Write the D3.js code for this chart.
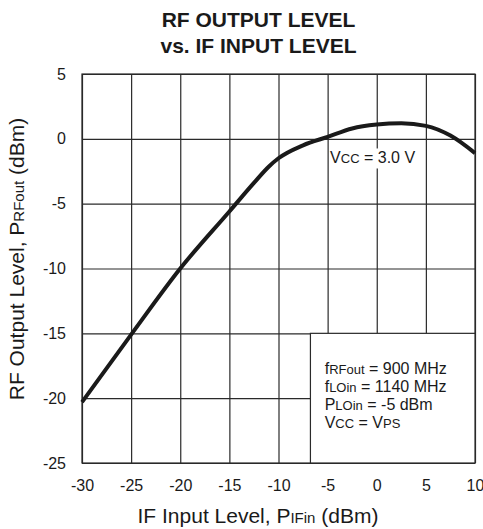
<!DOCTYPE html>
<html>
<head>
<meta charset="utf-8">
<script src="https://cdn.jsdelivr.net/npm/d3@7"></script>
<style>
  body { margin: 0; background: #fff; }
  text { font-family: "Liberation Sans", Arial, sans-serif; fill: #1a1a1a; }
</style>
</head>
<body>
<div id="wrapper"></div>
<script>
// data
const ifInput = [-30, -25, -20, -15, -12.5, -11, -10, -7.5, -5, -2.5, 0, 2.5, 5, 7.5, 10];
const rfOutput = [-20.3, -15.1, -10.0, -5.6, -3.4, -2.15, -1.5, -0.5, 0.15, 0.8, 1.1, 1.2, 1.0, 0.25, -1.1];
const xTicks = [-30, -25, -20, -15, -10, -5, 0, 5, 10];
const yTicks = [-25, -20, -15, -10, -5, 0, 5];

const dimensions = {
  width: 483,
  height: 529,
  margins: { top: 74, right: 8, bottom: 66, left: 82 },
};
dimensions.boundedWidth =
  dimensions.width - dimensions.margins.left - dimensions.margins.right;
dimensions.boundedHeight =
  dimensions.height - dimensions.margins.top - dimensions.margins.bottom;

const wrapper = d3
  .select("#wrapper")
  .append("svg")
  .attr("width", dimensions.width)
  .attr("height", dimensions.height);

const bounds = wrapper
  .append("g")
  .attr("transform", `translate(${dimensions.margins.left},${dimensions.margins.top})`);

const xScale = d3.scaleLinear().domain([-30, 10]).range([0, dimensions.boundedWidth]);
const yScale = d3.scaleLinear().domain([-25, 5]).range([dimensions.boundedHeight, 0]);

const gridColor = "#2a2a2a";
const plainFormat = (d) => String(d); // hyphen minus like the original

// grid + tick labels
const xAxis = bounds
  .append("g")
  .attr("transform", `translate(0,${dimensions.boundedHeight})`)
  .call(
    d3.axisBottom(xScale)
      .tickValues(xTicks)
      .tickFormat(plainFormat)
      .tickSizeInner(-dimensions.boundedHeight)
      .tickSizeOuter(0)
      .tickPadding(17)
  );

const yAxis = bounds
  .append("g")
  .call(
    d3.axisLeft(yScale)
      .tickValues(yTicks)
      .tickFormat(plainFormat)
      .tickSizeInner(-dimensions.boundedWidth)
      .tickSizeOuter(0)
      .tickPadding(16)
  );

[xAxis, yAxis].forEach((ax) => {
  ax.select(".domain").remove();
  ax.selectAll("line").attr("stroke", gridColor).attr("stroke-width", 1.2);
  ax.selectAll("text").style("font-size", "16px").attr("fill", "#1a1a1a");
});

// frame
bounds
  .append("rect")
  .attr("width", dimensions.boundedWidth)
  .attr("height", dimensions.boundedHeight)
  .attr("fill", "none")
  .attr("stroke", gridColor)
  .attr("stroke-width", 1.2);

// conditions box (covers grid in lower right)
bounds
  .append("rect")
  .attr("x", xScale(-6.75))
  .attr("y", yScale(-15))
  .attr("width", xScale(10) - xScale(-6.75))
  .attr("height", yScale(-25) - yScale(-15))
  .attr("fill", "#fff")
  .attr("stroke", gridColor)
  .attr("stroke-width", 1.2);

const conditions = [
  ["f", "RFout", " = 900 MHz"],
  ["f", "LOin", " = 1140 MHz"],
  ["P", "LOin", " = -5 dBm"],
  ["V", "CC", " = V", "PS"],
];

const condText = bounds
  .append("text")
  .attr("x", xScale(-5.3))
  .attr("y", yScale(-18.1))
  .style("font-size", "16px");

conditions.forEach((parts, i) => {
  parts.forEach((p, j) => {
    const t = condText.append("tspan").text(p);
    if (j === 0) t.attr("x", xScale(-5.3)).attr("dy", i === 0 ? 0 : 18.3);
    if (j % 2 === 1) t.style("font-size", "13px");
  });
});

// Vcc label with white background
const vccLabel = bounds.append("g");
const vccBg = vccLabel.append("rect").attr("fill", "#fff");
const vccText = vccLabel
  .append("text")
  .attr("x", xScale(-4.75))
  .attr("y", yScale(-1.9))
  .style("font-size", "16px");
vccText.append("tspan").text("V");
vccText.append("tspan").text("CC").style("font-size", "13px");
vccText.append("tspan").text(" = 3.0 V");
const bb = vccText.node().getBBox();
vccBg
  .attr("x", bb.x - 1)
  .attr("y", bb.y - 1)
  .attr("width", bb.width + 3)
  .attr("height", bb.height + 3);

// curve
const lineGenerator = d3
  .line()
  .x((d, i) => xScale(ifInput[i]))
  .y((d) => yScale(d))
  .curve(d3.curveMonotoneX);

bounds
  .append("path")
  .attr("d", lineGenerator(rfOutput))
  .attr("fill", "none")
  .attr("stroke", "#1a1a1a")
  .attr("stroke-width", 4)
  .attr("stroke-linejoin", "round");

// titles
const title = wrapper
  .append("text")
  .attr("text-anchor", "middle")
  .style("font-size", "21px")
  .style("font-weight", "bold")
  .attr("fill", "#111");
title.append("tspan").attr("x", 258.5).attr("y", 26.7).text("RF OUTPUT LEVEL");
title.append("tspan").attr("x", 258.5).attr("y", 53.3).text("vs. IF INPUT LEVEL");

const xLabel = wrapper
  .append("text")
  .attr("x", 258)
  .attr("y", 523)
  .attr("text-anchor", "middle")
  .style("font-size", "21px");
xLabel.append("tspan").text("IF Input Level, P");
xLabel.append("tspan").text("IFin").style("font-size", "15px");
xLabel.append("tspan").text(" (dBm)");

const yLabel = wrapper
  .append("text")
  .attr("transform", "translate(23.5,259) rotate(-90)")
  .attr("text-anchor", "middle")
  .style("font-size", "21px");
yLabel.append("tspan").text("RF Output Level, P");
yLabel.append("tspan").text("RFout").style("font-size", "15px");
yLabel.append("tspan").text(" (dBm)");
</script>
</body>
</html>
